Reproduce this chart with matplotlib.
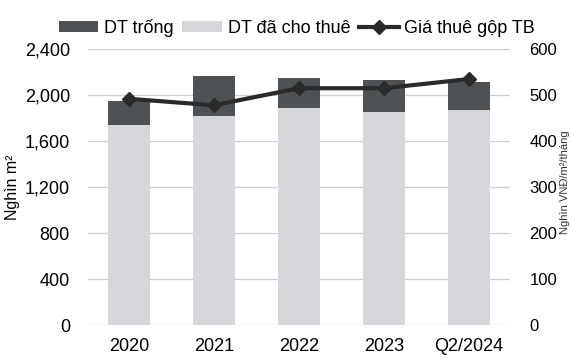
import matplotlib
matplotlib.use("Agg")
import matplotlib.pyplot as plt
import numpy as np

plt.rcParams['font.family'] = ['Liberation Sans', 'DejaVu Sans']

categories = ["2020", "2021", "2022", "2023", "Q2/2024"]
leased_area = [1740, 1820, 1890, 1850, 1870]      # DT đã cho thuê (nghìn m²)
vacant_area = [210, 345, 255, 280, 245]           # DT trống (nghìn m²)
avg_rent = [492, 478, 515, 515, 535]              # Giá thuê gộp TB

left_ticks = [0, 400, 800, 1200, 1600, 2000, 2400]
right_ticks = [0, 100, 200, 300, 400, 500, 600]

dark = "#4e5254"
light = "#d5d7da"
line_c = "#2a2a2a"
fs = 13

fig = plt.figure(figsize=(5.71, 3.64), dpi=100)
ax = fig.add_axes([0.154, 0.107, 0.739, 0.758])
x = np.arange(len(categories))

b1 = ax.bar(x, leased_area, width=0.5, color=light, label="DT đã cho thuê", zorder=2)
b2 = ax.bar(x, vacant_area, width=0.5, bottom=leased_area, color=dark, label="DT trống", zorder=2)

ax.set_xlim(-0.48, 4.48)
ax.set_ylim(0, 2400)
ax.set_yticks(left_ticks)
ax.set_yticklabels([f"{v:,}" for v in left_ticks])
ax.set_xticks(x)
ax.set_xticklabels(categories)
ax.yaxis.grid(True, color="#cfcfcf", linewidth=0.9, zorder=0)
ax.set_axisbelow(True)
for s in ax.spines.values():
    s.set_visible(False)
ax.tick_params(axis="y", length=0, pad=13, labelsize=fs)
ax.tick_params(axis="x", length=0, pad=9, labelsize=fs)
ax.set_ylabel("Nghìn m²", fontsize=11.5)
ax.yaxis.set_label_coords(-0.162, 0.5)

ax2 = ax.twinx()
ln, = ax2.plot(x, avg_rent, color=line_c, linewidth=3, marker="D", markersize=7,
               label="Giá thuê gộp TB", zorder=3)
ax2.set_ylim(0, 600)
ax2.set_yticks(right_ticks)
for s in ax2.spines.values():
    s.set_visible(False)
ax2.tick_params(axis="y", length=0, pad=14, labelsize=12)

# rent unit label along the right edge
fig.text(0.990, 0.50, "Nghìn VNĐ/m²/tháng", rotation=90, fontsize=8,
         ha="center", va="center", color="#333333")

fig.legend([b2, b1, ln], ["DT trống", "DT đã cho thuê", "Giá thuê gộp TB"],
           loc="center", bbox_to_anchor=(0.52, 0.923), ncol=3, frameon=False,
           fontsize=fs, handlelength=2.2, handleheight=0.6, columnspacing=0.5,
           handletextpad=0.3, borderaxespad=0, borderpad=0)

fig.savefig("out.png", dpi=100)
